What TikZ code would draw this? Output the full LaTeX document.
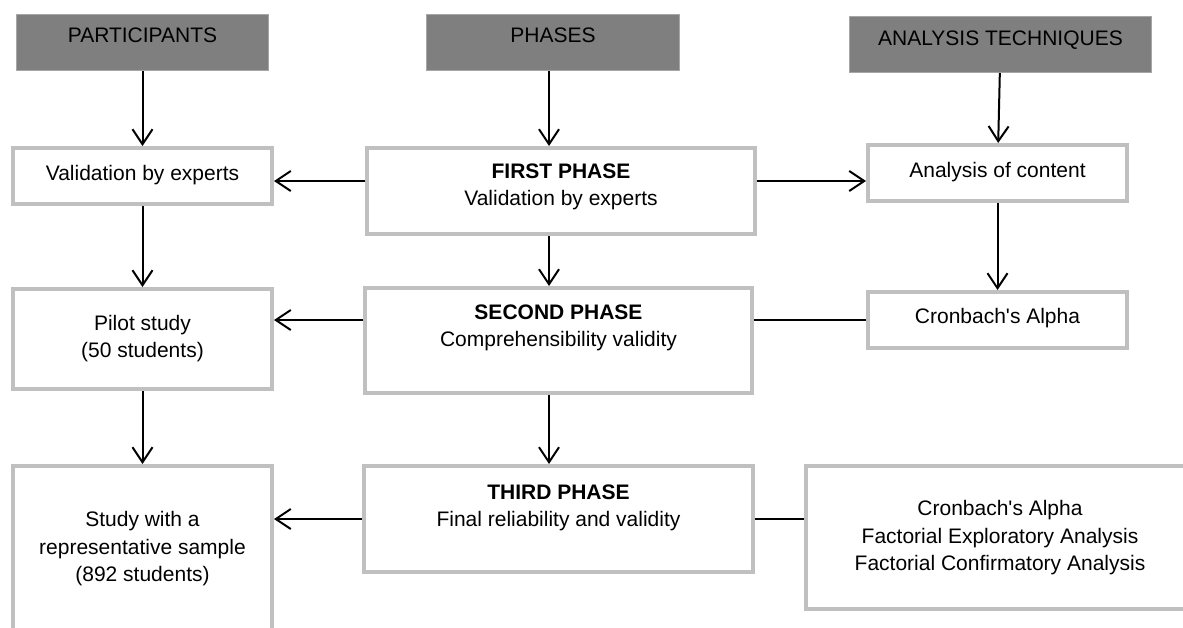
\documentclass[tikz,border=0pt]{standalone}
\usepackage{fontspec}
\setmainfont{Liberation Sans}[Ligatures=TeXOff]
\usetikzlibrary{arrows.meta}
\definecolor{headgray}{HTML}{7F7F7F}
\definecolor{headline}{HTML}{A6A6A6}
\definecolor{boxgray}{HTML}{C0C0C0}
\tikzset{
  head/.style={rectangle,fill=headgray,draw=headline,line width=1pt,minimum height=56},
  stagebox/.style={rectangle,draw=boxgray,line width=4pt,fill=white},
  txt/.style={align=center,inner sep=0pt,font=\fontsize{21}{27.5}\selectfont},
  flow/.style={line width=2pt,-{Straight Barb[length=15pt,width=20pt,line width=2pt]}},
  link/.style={line width=2pt}
}
\begin{document}
\begin{tikzpicture}[x=1pt,y=-1pt]
\useasboundingbox (0,0) rectangle (1183,627);
\clip (0,0) rectangle (1183,627);

\draw (142.5,42.5) node(PART)[head,minimum width=252]{};
\draw (553,42.5) node(PHASE)[head,minimum width=253]{};
\draw (1000.5,44.5) node(ANTECH)[head,minimum width=302]{};
\draw (142.5,35.5) node(PARTtxt)[txt]{PARTICIPANTS};
\draw (553,35.5) node(PHASEtxt)[txt]{PHASES};
\draw (1000.5,40) node(ANTECHtxt)[txt]{ANALYSIS TECHNIQUES};

\draw (142.5,176) node(VAL)[stagebox,minimum width=259,minimum height=56]{};
\draw (561,191) node(FIRST)[stagebox,minimum width=388,minimum height=86]{};
\draw (997.5,173) node(CONT)[stagebox,minimum width=259,minimum height=56]{};
\draw (142.5,339) node(PILOT)[stagebox,minimum width=259,minimum height=100]{};
\draw (558.5,340.5) node(SECOND)[stagebox,minimum width=387,minimum height=105]{};
\draw (997.5,320) node(CRON)[stagebox,minimum width=259,minimum height=56]{};
\draw (142.5,567) node(STUDY)[stagebox,minimum width=259,minimum height=202]{};
\draw (558.5,519) node(THIRD)[stagebox,minimum width=389,minimum height=106]{};
\draw (1000,537.5) node(TECH)[stagebox,minimum width=388,minimum height=143]{};

\draw (142.5,175) node(VALtxt)[txt]{Validation by experts};
\draw (561,187) node(FIRSTtxt)[txt]{\textbf{FIRST PHASE}\\Validation by experts};
\draw (997.5,172) node(CONTtxt)[txt]{Analysis of content};
\draw (142.5,338.5) node(PILOTtxt)[txt]{Pilot study\\(50 students)};
\draw (558.5,328) node(SECONDtxt)[txt]{\textbf{SECOND PHASE}\\Comprehensibility validity};
\draw (997.5,318.5) node(CRONtxt)[txt]{Cronbach's Alpha};
\draw (142.5,549) node(STUDYtxt)[txt]{Study with a\\representative sample\\(892 students)};
\draw (558.5,508) node(THIRDtxt)[txt]{\textbf{THIRD PHASE}\\Final reliability and validity};
\draw (1000,538) node(TECHtxt)[txt]{Cronbach's Alpha\\Factorial Exploratory Analysis\\Factorial Confirmatory Analysis};

\coordinate (MID) at (549,0);
\coordinate (ROW1) at (0,181);
\coordinate (ROW2) at (0,320);

\draw[flow] (PART) -- (VAL);
\draw[flow] (PHASE.south -| MID) -- (FIRST.north -| MID);
\draw[flow] (ANTECH) -- (CONT);
\draw[flow] (FIRST.west |- ROW1) -- (VAL.east |- ROW1);
\draw[flow] (FIRST.east |- ROW1) -- (CONT.west |- ROW1);
\draw[flow] (VAL) -- (PILOT);
\draw[flow] (FIRST.south -| MID) -- (SECOND.north -| MID);
\draw[flow] (CONT) -- (CRON);
\draw[flow] (SECOND.west |- ROW2) -- (PILOT.east |- ROW2);
\draw[link] (CRON.west) -- (CRON.west -| SECOND.east);
\draw[flow] (PILOT) -- (STUDY);
\draw[flow] (SECOND.south -| MID) -- (THIRD.north -| MID);
\draw[flow] (THIRD.west) -- (THIRD.west -| STUDY.east);
\draw[link] (THIRD.east) -- (THIRD.east -| TECH.west);

\end{tikzpicture}
\end{document}
